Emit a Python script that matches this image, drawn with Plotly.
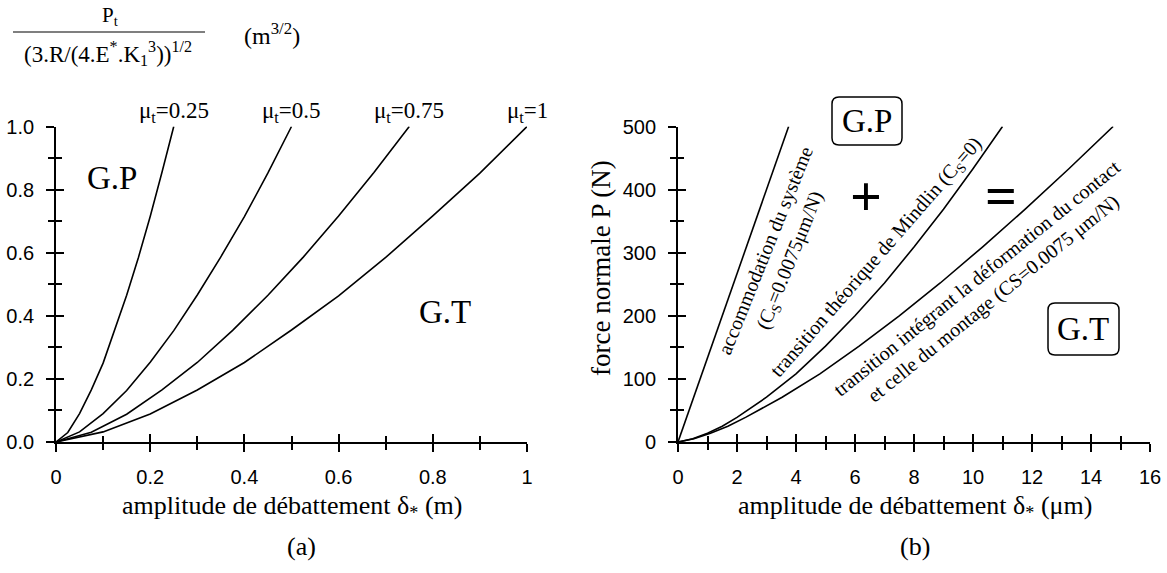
import plotly.graph_objects as go

W, H = 1167, 573

# ---------------- data: panel (a) ----------------
mu_labels = ["0.25", "0.5", "0.75", "1"]
x_mu025 = [0, 0.025, 0.05, 0.075, 0.1, 0.125, 0.15, 0.175, 0.2, 0.225, 0.25]
y_mu025 = [0, 0.03, 0.09, 0.165, 0.25, 0.355, 0.465, 0.585, 0.715, 0.855, 1.0]
x_mu05 = [0, 0.05, 0.1, 0.15, 0.2, 0.25, 0.3, 0.35, 0.4, 0.45, 0.5]
y_mu05 = [0, 0.032, 0.09, 0.163, 0.253, 0.353, 0.466, 0.587, 0.714, 0.853, 1.0]
x_mu075 = [0, 0.075, 0.15, 0.225, 0.3, 0.375, 0.45, 0.525, 0.6, 0.675, 0.75]
y_mu075 = [0, 0.031, 0.088, 0.165, 0.252, 0.354, 0.465, 0.586, 0.716, 0.854, 1.0]
x_mu1 = [0, 0.1, 0.2, 0.3, 0.4, 0.5, 0.6, 0.7, 0.8, 0.9, 1.0]
y_mu1 = [0, 0.032, 0.089, 0.165, 0.252, 0.355, 0.463, 0.585, 0.717, 0.852, 1.0]

# ---------------- data: panel (b) ----------------
x_accom = [0, 3.75]
y_accom = [0, 500]
x_mindlin = [0, 0.5, 1, 1.5, 2, 3, 4, 5, 6, 7, 8, 9, 10, 11.0]
y_mindlin = [0, 5, 14, 25, 39, 71, 108, 152, 200, 252, 309, 369, 433, 500]
x_total = [0, 0.54, 1.10, 1.69, 2.29, 3.53, 4.81, 6.14, 7.50, 8.89, 10.32, 11.77, 13.25, 14.75]
y_total = [0, 5, 14, 25, 39, 71, 108, 152, 200, 252, 309, 369, 433, 500]

SERIF = "Liberation Serif"
SANS = "Liberation Sans"
LW = 1.6


def px(x):
    return x / W


def py(y):
    return 1 - y / H


fig = go.Figure()
for xs, ys in [(x_mu025, y_mu025), (x_mu05, y_mu05), (x_mu075, y_mu075), (x_mu1, y_mu1)]:
    fig.add_trace(go.Scatter(x=xs, y=ys, mode="lines", line=dict(color="black", width=LW),
                             xaxis="x", yaxis="y", showlegend=False, hoverinfo="skip"))
for xs, ys in [(x_accom, y_accom), (x_mindlin, y_mindlin), (x_total, y_total)]:
    fig.add_trace(go.Scatter(x=xs, y=ys, mode="lines", line=dict(color="black", width=LW),
                             xaxis="x2", yaxis="y2", showlegend=False, hoverinfo="skip"))
# empty traces to activate the overlay tick axes
fig.add_trace(go.Scatter(x=[], y=[], xaxis="x3", yaxis="y3", showlegend=False))
fig.add_trace(go.Scatter(x=[], y=[], xaxis="x4", yaxis="y4", showlegend=False))

ydom = [py(442), py(126.5)]
xdom_a = [px(56), px(527)]
xdom_b = [px(678), px(1150)]

common = dict(showline=True, linecolor="black", linewidth=1.8, showgrid=False, zeroline=False,
              automargin=False,
              ticks="outside", ticklen=8, tickwidth=1.6, tickcolor="black",
              tickfont=dict(family=SANS, size=20, color="black"))


def minor(d):
    return dict(dtick=d, ticks="outside", ticklen=6, tickwidth=1.6, tickcolor="black", showgrid=False)


def inside(ax_range, dom, dtick, mdtick, overlaying, anchor):
    return dict(range=ax_range, domain=dom, overlaying=overlaying, anchor=anchor, automargin=False,
                showline=False, showgrid=False, zeroline=False, showticklabels=False,
                ticks="inside", ticklen=8, tickwidth=1.6, tickcolor="black", dtick=dtick, tick0=0,
                minor=dict(dtick=mdtick, ticks="inside", ticklen=6, tickwidth=1.6,
                           tickcolor="black", showgrid=False))


fig.update_layout(
    width=W, height=H, margin=dict(l=0, r=0, t=0, b=0, autoexpand=False),
    plot_bgcolor="white", paper_bgcolor="white",
    xaxis=dict(domain=xdom_a, range=[0, 1], dtick=0.2, tick0=0, anchor="y", minor=minor(0.1),
               ticklabelstandoff=8, **common),
    yaxis=dict(domain=ydom, range=[0, 1], dtick=0.2, tick0=0, tickformat=".1f", anchor="x",
               minor=minor(0.1), ticklabelstandoff=8, **common),
    xaxis2=dict(domain=xdom_b, range=[0, 16], dtick=2, tick0=0, anchor="y2", minor=minor(1),
                ticklabelstandoff=8, **common),
    yaxis2=dict(domain=ydom, range=[0, 500], dtick=100, tick0=0, anchor="x2", minor=minor(50),
                ticklabelstandoff=8, **common),
    xaxis3=inside([0, 1], xdom_a, 0.2, 0.1, "x", "y"),
    yaxis3=inside([0, 1], ydom, 0.2, 0.1, "y", "x"),
    xaxis4=inside([0, 16], xdom_b, 2, 1, "x2", "y2"),
    yaxis4=inside([0, 500], ydom, 100, 50, "y2", "x2"),
)

ann = []


def A(x, y, text, size, angle=0, family=SERIF, **kw):
    ann.append(dict(x=px(x), y=py(y), xref="paper", yref="paper", text=text, showarrow=False,
                    textangle=angle, font=dict(family=family, size=size, color="black"),
                    xanchor="center", yanchor="middle", **kw))


# formula
A(110, 16, "P<sub>t</sub>", 21)
A(108, 54, "(3.R/(4.E<sup>*</sup>.K<sub>1</sub><sup>3</sup>))<sup>1/2</sup>", 23)
A(272, 34, "(m<sup>3/2</sup>)", 24)

# panel (a) labels
xa0, xa1 = 56, 527
for lab, xv in zip(mu_labels, [0.25, 0.5, 0.75, 1.0]):
    A(xa0 + xv * (xa1 - xa0), 112, "μ<sub>t</sub>=" + lab, 23)
A(112, 178, "G.P", 33)
A(445, 312, "G.T", 33)
A(292, 507, "amplitude de débattement δ<sub>*</sub> (m)", 26)
A(301, 546, "(a)", 26)

# panel (b) labels
A(601, 268, "force normale P (N)", 27, angle=-90)
A(915, 507, "amplitude de débattement δ<sub>*</sub> (μm)", 26)
A(915, 546, "(b)", 26)
A(867, 121, "G.P", 33)
A(1083, 329, "G.T", 33)
A(866, 197, "<b>+</b>", 56)
A(1001, 196, "<b>=</b>", 56)
A(779, 256, "accommodation du système<br>(C<sub>S</sub>=0.0075μm/N)", 20, angle=-68)
A(877, 258, "transition théorique de Mindlin (C<sub>S</sub>=0)", 20, angle=-49)
A(985, 288, "transition intégrant la déformation du contact<br>et celle du montage (CS=0.0075 μm/N)", 20, angle=-39)

fig.update_layout(annotations=ann)
fig.add_shape(type="line", xref="paper", yref="paper", x0=px(13), x1=px(205), y0=py(32), y1=py(32),
              line=dict(color="black", width=1.2))


def rounded_box(x0, y0, x1, y1, r=7):
    rx, ry = r / W, r / H
    X0, X1 = px(x0), px(x1)
    Y0, Y1 = py(y1), py(y0)  # Y0 bottom, Y1 top
    path = (f"M {X0+rx},{Y0} L {X1-rx},{Y0} Q {X1},{Y0} {X1},{Y0+ry} "
            f"L {X1},{Y1-ry} Q {X1},{Y1} {X1-rx},{Y1} "
            f"L {X0+rx},{Y1} Q {X0},{Y1} {X0},{Y1-ry} "
            f"L {X0},{Y0+ry} Q {X0},{Y0} {X0+rx},{Y0} Z")
    fig.add_shape(type="path", path=path, xref="paper", yref="paper",
                  line=dict(color="black", width=1.5))


rounded_box(832, 97, 902, 145)
rounded_box(1048, 303, 1119, 355)

fig.write_html("out.html", config={"displayModeBar": False},
               post_script="document.body.style.margin='0';document.body.style.overflow='hidden';")
